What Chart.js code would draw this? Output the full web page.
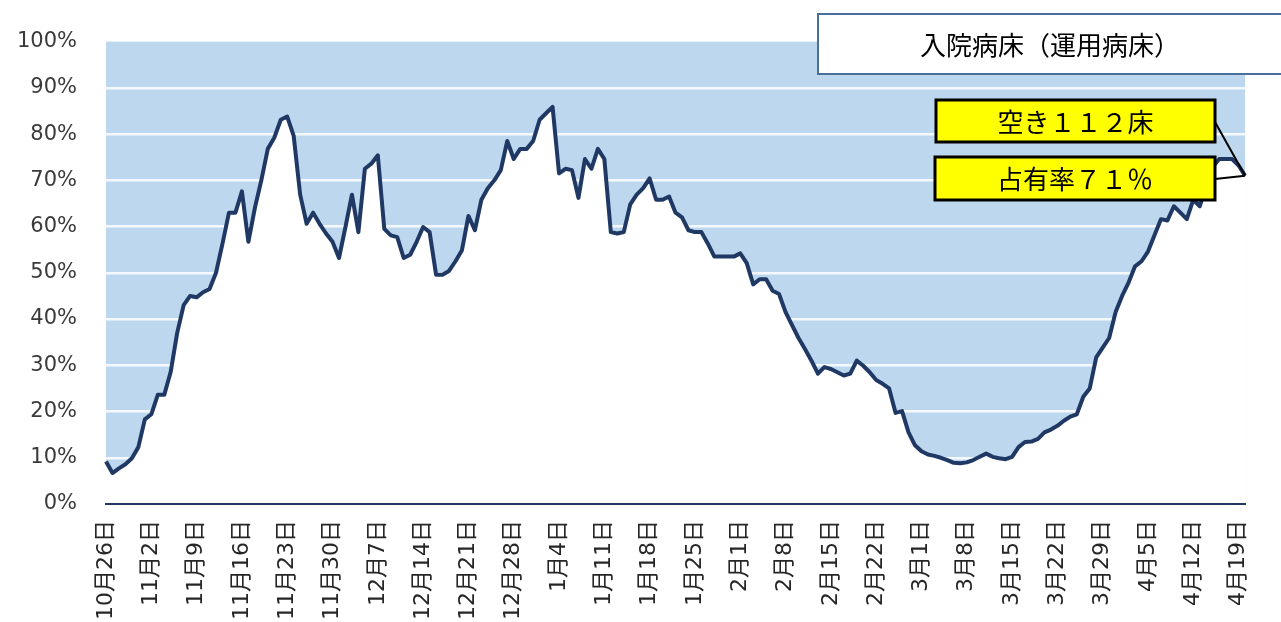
<!DOCTYPE html>
<html lang="ja">
<head>
<meta charset="utf-8">
<title>入院病床（運用病床）</title>
<script src="https://cdn.jsdelivr.net/npm/chart.js@4.4.1/dist/chart.umd.min.js"></script>
<style>
    html, body { margin: 0; padding: 0; background: #fff; overflow: hidden; }
    #wrap { width: 1281px; height: 622px; }
</style>
</head>
<body>
<div id="wrap"><canvas id="bedChart" width="1281" height="622"></canvas></div>
<script>
// daily bed occupancy (%), one value per day from 10/26
const occupancy = [
    9.2, 6.7, 7.7, 8.6, 9.9, 12.3, 18.3, 19.4, 23.6, 23.6,
    28.6, 37, 43, 45, 44.7, 45.8, 46.5, 50, 56.3, 63,
    63, 67.6, 56.7, 64, 70, 76.8, 79.2, 83.1, 83.8, 79.6,
    66.9, 60.6, 63, 60.6, 58.5, 56.7, 53.2, 59.9, 66.9, 58.8,
    72.5, 73.6, 75.4, 59.5, 58.1, 57.7, 53.2, 53.9, 56.7, 59.9,
    58.8, 49.6, 49.6, 50.4, 52.5, 54.9, 62.3, 59.2, 65.8, 68.3,
    70, 72.2, 78.5, 74.6, 76.8, 76.8, 78.5, 83.1, 84.5, 85.9,
    71.5, 72.5, 72.2, 66.2, 74.6, 72.5, 76.8, 74.6, 58.8, 58.5,
    58.8, 64.8, 66.9, 68.3, 70.4, 65.8, 65.8, 66.5, 63, 62,
    59.2, 58.8, 58.8, 56.3, 53.5, 53.5, 53.5, 53.5, 54.2, 52.1,
    47.5, 48.6, 48.6, 46.1, 45.4, 41.5, 38.7, 35.9, 33.5, 31,
    28.2, 29.6, 29.2, 28.5, 27.8, 28.2, 31, 29.9, 28.5, 26.8,
    26, 25, 19.7, 20.1, 15.5, 12.7, 11.4, 10.7, 10.4, 10,
    9.5, 8.9, 8.8, 9, 9.5, 10.2, 10.9, 10.2, 9.9, 9.7,
    10.2, 12.3, 13.4, 13.5, 14.1, 15.5, 16.1, 16.9, 18, 18.9,
    19.4, 23.2, 25, 31.7, 33.8, 35.9, 41.5, 45, 47.9, 51.4,
    52.5, 54.6, 58.1, 61.6, 61.3, 64.4, 63, 61.6, 65.8, 64.4,
    68.7, 72.9, 74.6, 74.6, 74.6, 73.2, 71,
];

const titleText = "入院病床（運用病床）";
const vacantText = "空き１１２床";
const rateText = "占有率７１％";

// category labels, one per day
const days = [];
const day = new Date(2020, 9, 26);
for (let i = 0; i < occupancy.length; i++) {
    days.push(`${day.getMonth() + 1}月${day.getDate()}日`);
    day.setDate(day.getDate() + 1);
}

const plotBackground = {
    id: "plotBackground",
    beforeDraw(chart) {
        const { ctx, chartArea: a } = chart;
        ctx.save();
        ctx.fillStyle = "#ffffff";
        ctx.fillRect(0, 0, chart.width, chart.height);
        ctx.fillStyle = "#bdd7ee";
        ctx.fillRect(a.left, a.top, a.right - a.left, a.bottom - a.top);
        ctx.restore();
    },
};

function drawBox(ctx, x, y, w, h, fill, stroke, lw, text) {
    ctx.fillStyle = fill;
    ctx.fillRect(x, y, w, h);
    ctx.lineWidth = lw;
    ctx.strokeStyle = stroke;
    ctx.strokeRect(x, y, w, h);
    ctx.fillStyle = "#000000";
    ctx.font = "26px 'Noto Sans CJK JP'";
    ctx.textAlign = "center";
    ctx.textBaseline = "middle";
    ctx.fillText(text, x + w / 2, y + h / 2 + 1);
}

const callouts = {
    id: "callouts",
    afterDraw(chart) {
        const ctx = chart.ctx;
        const last = occupancy.length - 1;
        const px = chart.scales.x.getPixelForValue(last);
        const py = chart.scales.y.getPixelForValue(occupancy[last]);
        ctx.save();
        drawBox(ctx, 818, 14, 464, 60, "#ffffff", "#4a6f9c", 2, titleText);

        ctx.strokeStyle = "#000000";
        ctx.lineWidth = 2;
        ctx.beginPath();
        ctx.moveTo(1215, 122);
        ctx.lineTo(px, py);
        ctx.moveTo(1215, 179);
        ctx.lineTo(px, py);
        ctx.stroke();

        drawBox(ctx, 936, 100, 279, 42, "#ffff00", "#000000", 3, vacantText);
        drawBox(ctx, 935, 157, 280, 43, "#ffff00", "#000000", 3, rateText);
        ctx.restore();
    },
};

const ctx = document.getElementById("bedChart").getContext("2d");

new Chart(ctx, {
    type: "line",
    data: {
        labels: days,
        datasets: [
            {
                data: occupancy,
                borderColor: "#1f3864",
                borderWidth: 4,
                borderJoinStyle: "round",
                backgroundColor: "#ffffff",
                fill: "origin",
                pointRadius: 0,
                tension: 0,
            },
        ],
    },
    options: {
        responsive: false,
        devicePixelRatio: 1,
        animation: false,
        layout: { padding: { top: 29, left: 0, right: 0, bottom: 0 } },
        scales: {
            x: {
                grid: { display: false, drawTicks: false },
                border: { display: true, color: "#1f3864", width: 2, z: 1 },
                afterFit: (scale) => { scale.height = 118; },
                ticks: {
                    autoSkip: false,
                    minRotation: 90,
                    maxRotation: 90,
                    padding: 16,
                    color: "#262626",
                    font: { family: "'DejaVu Sans', 'Noto Sans CJK JP'", size: 22 },
                    callback: (v, i) => (i % 7 === 0 ? days[i] : null),
                },
            },
            y: {
                min: 0,
                max: 100,
                border: { display: false },
                afterFit: (scale) => { scale.width = 106; },
                grid: {
                    drawTicks: false,
                    lineWidth: 2.5,
                    color: (c) => (c.tick && (c.tick.value === 0 || c.tick.value === 100)
                        ? "rgba(0,0,0,0)" : "rgba(255,255,255,0.85)"),
                },
                ticks: {
                    stepSize: 10,
                    padding: 29,
                    color: "#3a3a3a",
                    font: { family: "'DejaVu Sans'", size: 21 },
                    callback: (v) => v + "%",
                },
            },
        },
        plugins: {
            legend: { display: false },
            tooltip: { enabled: false },
        },
    },
    plugins: [plotBackground, callouts],
});
</script>
</body>
</html>
